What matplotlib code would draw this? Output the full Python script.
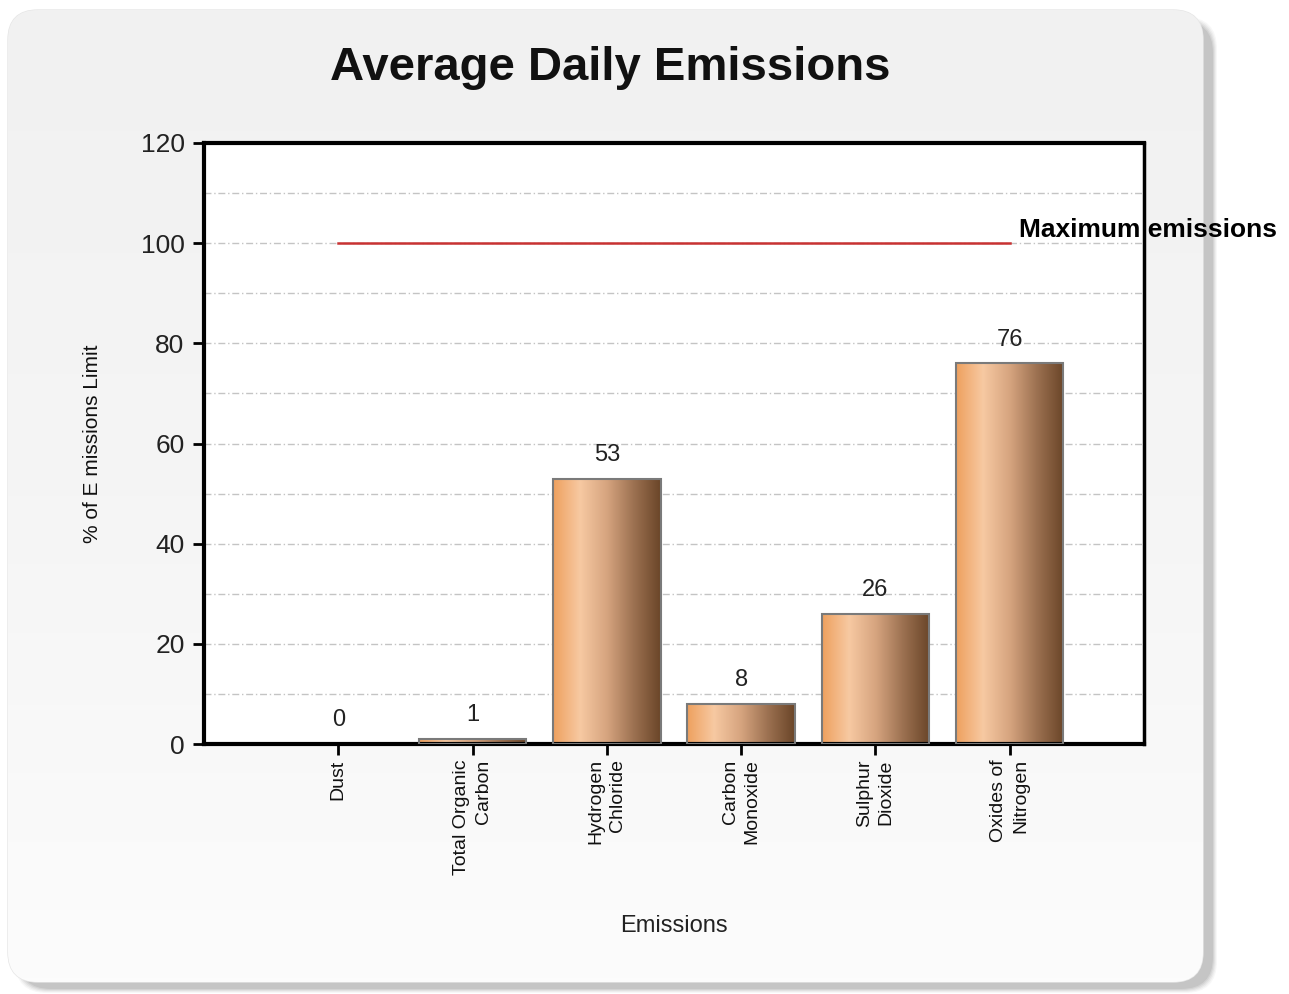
import numpy as np
import matplotlib
matplotlib.use("Agg")
import matplotlib.pyplot as plt
from matplotlib.colors import LinearSegmentedColormap
from matplotlib.patches import FancyBboxPatch, Rectangle
from matplotlib.ticker import MultipleLocator

plt.rcParams['font.family'] = ['Liberation Sans', 'DejaVu Sans']

# --- data ---
categories = ["Dust", "Total Organic\nCarbon", "Hydrogen\nChloride",
              "Carbon\nMonoxide", "Sulphur\nDioxide", "Oxides of\nNitrogen"]
values = [0, 1, 53, 8, 26, 76]
limit_value = 100
limit_label = "Maximum emissions"

W, H = 1289, 994
fig = plt.figure(figsize=(W / 100, H / 100), dpi=100)
fig.patch.set_facecolor("white")

# background panel with rounded corners and a soft shadow
bg = fig.add_axes([0, 0, 1, 1], zorder=-5)
bg.set_xlim(0, W)
bg.set_ylim(H, 0)
bg.axis("off")
for i, a in enumerate([0.05, 0.07, 0.09, 0.11, 0.13]):
    pad = 10 - 2 * i
    sh = FancyBboxPatch((20 - pad / 2, 22 - pad / 2), 1200 - 8 + pad, 966 + pad,
                        boxstyle="round,pad=0,rounding_size=32",
                        fc="#6a6a6a", ec="none", alpha=a)
    bg.add_patch(sh)
panel = FancyBboxPatch((8, 10), 1195, 972, boxstyle="round,pad=0,rounding_size=30",
                       fc="#f4f4f4", ec="#e6e6e6", lw=1, zorder=1)
bg.add_patch(panel)
grad = np.linspace(0, 1, 256).reshape(-1, 1)
pcmap = LinearSegmentedColormap.from_list("panel", ["#f1f1f1", "#f5f5f5", "#fcfcfc"])
im = bg.imshow(grad, extent=(8, 1203, 982, 10), cmap=pcmap, aspect="auto", zorder=2)
im.set_clip_path(panel)
bg.set_xlim(0, W)
bg.set_ylim(H, 0)

# main axes
ax = fig.add_axes([204 / W, (H - 744) / H, (1144 - 204) / W, (744 - 143) / H])
ax.set_facecolor("white")

bar_cmap = LinearSegmentedColormap.from_list(
    "copper_bar", ["#eea05e", "#f7c9a2", "#d6a47f", "#9c7151", "#6a4528"])
gx = np.linspace(0, 1, 256).reshape(1, -1)
width = 0.8
for i, v in enumerate(values):
    if v > 0:
        ax.imshow(gx, extent=(i - width / 2, i + width / 2, 0, v), cmap=bar_cmap,
                  aspect="auto", zorder=2)
        ax.add_patch(Rectangle((i - width / 2, 0), width, v, fill=False,
                               ec="#7a7a7a", lw=1.5, zorder=3))
    ax.annotate(str(v), (i, v), xytext=(0, 9), textcoords="offset points",
                ha="center", va="bottom", fontsize=17, color="#222222")

# maximum emissions line
ax.plot([0, len(categories) - 1], [limit_value, limit_value], color="#c83232",
        lw=1.8, zorder=4)
ax.annotate(limit_label, (len(categories) - 1, limit_value), xytext=(7, 1),
            textcoords="offset points", ha="left", va="bottom", fontsize=19,
            fontweight="bold", annotation_clip=False, zorder=6)

ax.set_xlim(-1, len(categories))
ax.set_ylim(0, 120)
ax.yaxis.set_major_locator(MultipleLocator(20))
ax.yaxis.set_minor_locator(MultipleLocator(10))
ax.grid(axis="y", which="both", color="#c4c4c4", lw=1, linestyle=(0, (5, 2, 1, 2)),
        zorder=0)
ax.set_axisbelow(True)

ax.set_xticks(range(len(categories)))
ax.set_xticklabels(categories, rotation=90, ha="center", va="top",
                   multialignment="right", fontsize=14, color="#111111",
                   linespacing=1.35)
ax.tick_params(axis="x", direction="out", length=8, width=2, pad=3)
ax.tick_params(axis="y", direction="out", length=8, width=2, pad=6,
               labelsize=19, labelcolor="#222222")
ax.tick_params(axis="y", which="minor", length=0)

for side in ["left", "bottom", "top"]:
    ax.spines[side].set_linewidth(3)
ax.spines["right"].set_linewidth(2.5)

ax.set_ylabel("% of E missions Limit", fontsize=15, color="#111111")
ax.yaxis.set_label_coords(-0.108, 0.5)
ax.set_xlabel("Emissions", fontsize=17, color="#222222")
ax.xaxis.set_label_coords(0.5, -0.285)

fig.text(610 / W, 1 - 68 / H, "Average Daily Emissions", ha="center", va="center",
         fontsize=34, fontweight="bold", color="#111111")

plt.savefig("out.png", dpi=100)
